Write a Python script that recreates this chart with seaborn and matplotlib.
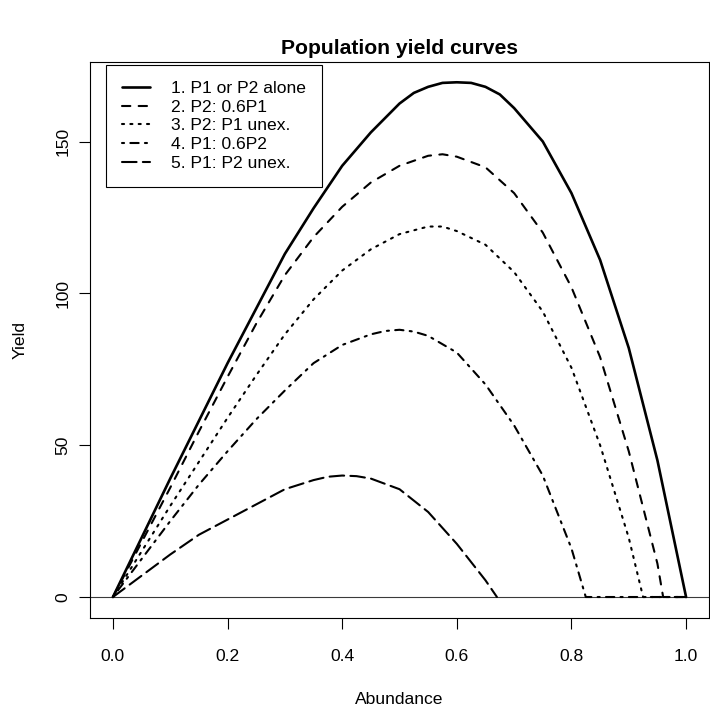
import matplotlib
matplotlib.use("Agg")
import matplotlib.pyplot as plt
import seaborn as sns
import pandas as pd

# ---- data ----
x1 = [0.0, 0.05, 0.10, 0.15, 0.20, 0.25, 0.30, 0.35, 0.40, 0.45, 0.50,
      0.525, 0.55, 0.575, 0.60, 0.625, 0.65, 0.675, 0.70, 0.75, 0.80,
      0.85, 0.90, 0.95, 1.0]
y1 = [0, 19.5, 39, 58, 77, 95, 113, 128, 142, 153, 162.5,
      166, 168, 169.3, 169.5, 169.3, 168, 165.5, 161, 150, 133,
      111, 82, 45, 0]

x2 = [0.0, 0.05, 0.10, 0.15, 0.20, 0.25, 0.30, 0.35, 0.40, 0.45, 0.50,
      0.55, 0.575, 0.60, 0.65, 0.70, 0.75, 0.80, 0.85, 0.90, 0.95, 0.96, 1.0]
y2 = [0, 18, 36, 54.5, 72.5, 90, 106, 118.5, 128.5, 136.5, 142,
      145.3, 145.8, 145, 141.5, 133, 120, 102, 79, 48, 11, 0, 0]

x3 = [0.0, 0.05, 0.10, 0.15, 0.20, 0.25, 0.30, 0.35, 0.40, 0.45, 0.50,
      0.55, 0.575, 0.60, 0.65, 0.70, 0.75, 0.80, 0.85, 0.90, 0.925, 1.0]
y3 = [0, 15, 30, 44.5, 59, 73, 86.5, 98, 107.5, 114.5, 119.5,
      122, 122, 120.5, 116, 107, 94, 75.5, 50, 19.5, 0, 0]

x4 = [0.0, 0.05, 0.10, 0.15, 0.20, 0.25, 0.30, 0.35, 0.40, 0.45, 0.475,
      0.50, 0.525, 0.55, 0.60, 0.65, 0.70, 0.75, 0.80, 0.825, 1.0]
y4 = [0, 12.5, 25, 37, 48, 58.5, 68, 77, 83, 86.5, 87.6,
      88, 87.4, 86, 80.5, 70, 56.5, 40, 16, 0, 0]

x5 = [0.0, 0.05, 0.10, 0.15, 0.20, 0.25, 0.30, 0.35, 0.375, 0.40, 0.425,
      0.45, 0.50, 0.55, 0.60, 0.65, 0.67]
y5 = [0, 7, 14, 20.5, 25.5, 30.5, 35.5, 38.5, 39.6, 40, 39.8,
      39, 35.5, 28, 17.5, 5.5, 0]

labels = ["1. P1 or P2 alone", "2. P2: 0.6P1", "3. P2: P1 unex.",
          "4. P1: 0.6P2", "5. P1: P2 unex."]
xticks = [0.0, 0.2, 0.4, 0.6, 0.8, 1.0]
xticklabels = ["0.0", "0.2", "0.4", "0.6", "0.8", "1.0"]
yticks = [0, 50, 100, 150]
yticklabels = ["0", "50", "100", "150"]

# ---- styling ----
sns.set_theme(style="ticks")
plt.rcParams["font.family"] = ["Liberation Sans", "DejaVu Sans"]
plt.rcParams["text.color"] = "black"
plt.rcParams["axes.labelcolor"] = "black"
plt.rcParams["xtick.color"] = "black"
plt.rcParams["ytick.color"] = "black"

series = [(x1, y1), (x2, y2), (x3, y3), (x4, y4), (x5, y5)]
styles = [
    dict(lw=1.9, linestyle="-"),
    dict(lw=1.5, linestyle=(0, (4, 4))),
    dict(lw=1.5, linestyle=(0, (1, 3))),
    dict(lw=1.5, linestyle=(0, (1, 3, 4, 3))),
    dict(lw=1.5, linestyle=(0, (7, 3))),
]

W, H = 710, 708
fig = plt.figure(figsize=(W / 100, H / 100), dpi=100)
L, R, T, B = 90, 709, 61.7, 617.6
ax = fig.add_axes([L / W, 1 - B / H, (R - L) / W, (B - T) / H])

ax.axhline(0, color="#3a3a3a", lw=0.8, zorder=1)

for (xs, ys), st, lab in zip(series, styles, labels):
    df = pd.DataFrame({"Abundance": xs, "Yield": ys})
    sns.lineplot(data=df, x="Abundance", y="Yield", ax=ax, color="black",
                 sort=False, errorbar=None, label=lab,
                 dash_capstyle="round", solid_capstyle="round",
                 solid_joinstyle="round", **st)

handles = ax.get_lines()[1:]
leg = ax.legend(handles=handles, labels=labels, loc="upper left",
                bbox_to_anchor=(106 / W, 1 - 65 / H),
                bbox_transform=fig.transFigure, borderaxespad=0,
                fontsize=12.6, frameon=True, fancybox=False, shadow=False,
                framealpha=1, edgecolor="black", borderpad=0.9,
                handlelength=1.61, handletextpad=1.23, labelspacing=0.2)
leg.get_frame().set_linewidth(0.8)
for t in leg.get_texts():
    t.set_color("black")

ax.set_xlim(-0.04, 1.04)
ax.set_ylim(-6.78, 176.28)
ax.set_xticks(xticks)
ax.set_xticklabels(xticklabels)
ax.set_yticks(yticks)
ax.set_yticklabels(yticklabels)

for sp in ax.spines.values():
    sp.set_visible(True)
    sp.set_color("black")
    sp.set_linewidth(0.8)

ax.tick_params(axis="both", direction="out", length=7.6, width=0.8,
               colors="black", labelsize=12.6)
ax.tick_params(axis="x", pad=15.0)
ax.tick_params(axis="y", pad=6.5, labelrotation=90)
for lbl in ax.get_yticklabels():
    lbl.set_va("center")

ax.set_xlabel("Abundance", fontsize=12.6, color="black")
ax.xaxis.label.set_va("baseline")
ax.xaxis.set_label_coords(0.5, -(703.5 - B) / (B - T))
ax.set_ylabel("Yield", fontsize=12.6, color="black")
ax.yaxis.label.set_rotation_mode("anchor")
ax.yaxis.label.set_va("baseline")
ax.yaxis.set_label_coords(-(L - 25) / (R - L), 0.5)

ax.set_title("Population yield curves", fontsize=15.2, fontweight="bold",
             color="black", y=1 + (T - 54.5) / (B - T), va="baseline", pad=0)

fig.savefig("out.png", dpi=100, facecolor="white")
